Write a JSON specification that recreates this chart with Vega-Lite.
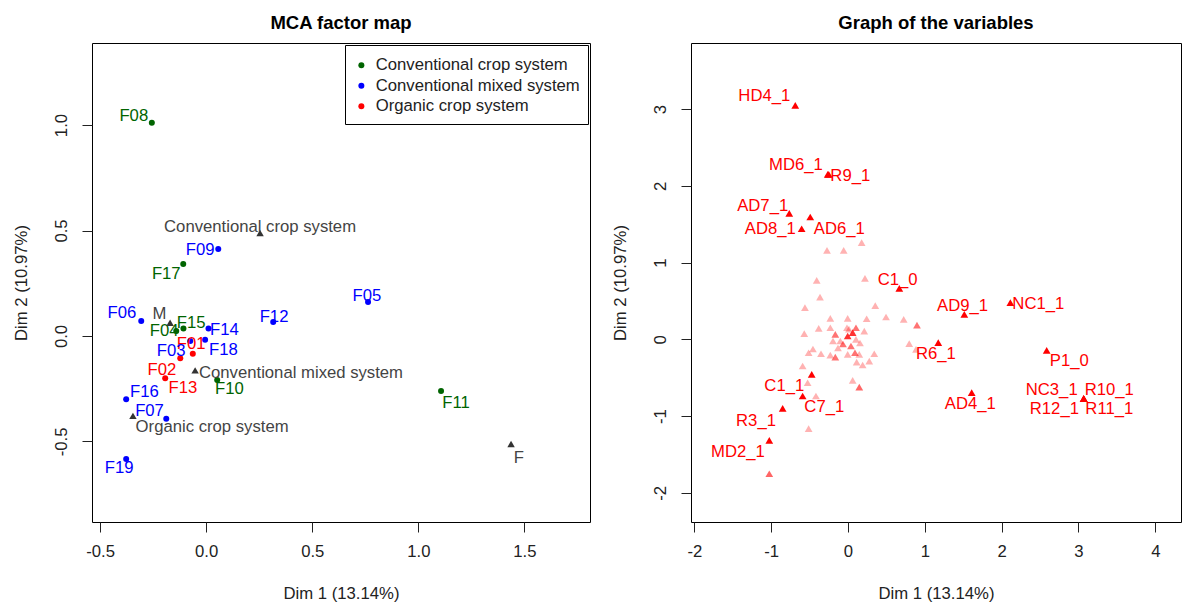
{
  "$schema": "https://vega.github.io/schema/vega-lite/v6.json",
  "background": "white",
  "padding": {"left": 12, "top": 13, "right": 2, "bottom": 0},
  "bounds": "flush",
  "spacing": 101,
  "config": {
    "font": "Liberation Sans",
    "locale": {"number": {"decimal": ".", "thousands": ",", "grouping": [3], "currency": ["$", ""], "minus": "-"}},
    "view": {"stroke": "black", "strokeWidth": 1},
    "axis": {"domain": false, "grid": false, "tickColor": "#222", "tickSize": 10, "labelFontSize": 16.7, "labelColor": "#222", "titleFontSize": 16.7, "titleFontWeight": "normal", "titleColor": "#222", "labelFlush": false, "labelOverlap": false},
    "axisX": {"labelPadding": 11, "minExtent": 40, "maxExtent": 40, "titlePadding": 23},
    "axisY": {"labelAngle": -90, "labelAlign": "center", "labelBaseline": "bottom", "labelPadding": 12, "minExtent": 45, "maxExtent": 45, "titlePadding": 17},
    "title": {"fontSize": 18.5, "fontWeight": "bold", "offset": 11, "color": "black"}
  },
  "datasets": {
    "farms": [
      {"farm": "F01", "system": "Organic crop system", "dim1": -0.063, "dim2": -0.084, "label_dim1": -0.071, "label_dim2": -0.039},
      {"farm": "F02", "system": "Organic crop system", "dim1": -0.193, "dim2": -0.200, "label_dim1": -0.209, "label_dim2": -0.161},
      {"farm": "F03", "system": "Conventional mixed system", "dim1": -0.075, "dim2": -0.024, "label_dim1": -0.165, "label_dim2": -0.071},
      {"farm": "F04", "system": "Conventional crop system", "dim1": -0.141, "dim2": 0.024, "label_dim1": -0.198, "label_dim2": 0.024},
      {"farm": "F05", "system": "Conventional mixed system", "dim1": 0.763, "dim2": 0.161, "label_dim1": 0.758, "label_dim2": 0.190},
      {"farm": "F06", "system": "Conventional mixed system", "dim1": -0.306, "dim2": 0.071, "label_dim1": -0.397, "label_dim2": 0.108},
      {"farm": "F07", "system": "Conventional mixed system", "dim1": -0.188, "dim2": -0.392, "label_dim1": -0.267, "label_dim2": -0.355},
      {"farm": "F08", "system": "Conventional crop system", "dim1": -0.256, "dim2": 1.011, "label_dim1": -0.341, "label_dim2": 1.043},
      {"farm": "F09", "system": "Conventional mixed system", "dim1": 0.057, "dim2": 0.412, "label_dim1": -0.028, "label_dim2": 0.408},
      {"farm": "F10", "system": "Conventional crop system", "dim1": 0.052, "dim2": -0.209, "label_dim1": 0.110, "label_dim2": -0.253},
      {"farm": "F11", "system": "Conventional crop system", "dim1": 1.107, "dim2": -0.261, "label_dim1": 1.178, "label_dim2": -0.318},
      {"farm": "F12", "system": "Conventional mixed system", "dim1": 0.316, "dim2": 0.066, "label_dim1": 0.320, "label_dim2": 0.090},
      {"farm": "F13", "system": "Organic crop system", "dim1": -0.122, "dim2": -0.106, "label_dim1": -0.110, "label_dim2": -0.245},
      {"farm": "F14", "system": "Conventional mixed system", "dim1": 0.011, "dim2": 0.036, "label_dim1": 0.086, "label_dim2": 0.027},
      {"farm": "F15", "system": "Conventional crop system", "dim1": -0.107, "dim2": 0.035, "label_dim1": -0.071, "label_dim2": 0.063},
      {"farm": "F16", "system": "Conventional mixed system", "dim1": -0.377, "dim2": -0.300, "label_dim1": -0.291, "label_dim2": -0.264},
      {"farm": "F17", "system": "Conventional crop system", "dim1": -0.108, "dim2": 0.341, "label_dim1": -0.188, "label_dim2": 0.294},
      {"farm": "F18", "system": "Conventional mixed system", "dim1": -0.005, "dim2": -0.018, "label_dim1": 0.081, "label_dim2": -0.068},
      {"farm": "F19", "system": "Conventional mixed system", "dim1": -0.377, "dim2": -0.583, "label_dim1": -0.410, "label_dim2": -0.626}
    ],
    "categories": [
      {"category": "Conventional crop system", "dim1": 0.254, "dim2": 0.488, "label_dim1": 0.254, "label_dim2": 0.517},
      {"category": "Conventional mixed system", "dim1": -0.052, "dim2": -0.163, "label_dim1": 0.447, "label_dim2": -0.175},
      {"category": "Organic crop system", "dim1": -0.345, "dim2": -0.379, "label_dim1": 0.028, "label_dim2": -0.431},
      {"category": "M", "dim1": -0.170, "dim2": 0.063, "label_dim1": -0.220, "label_dim2": 0.103},
      {"category": "F", "dim1": 1.437, "dim2": -0.512, "label_dim1": 1.474, "label_dim2": -0.578}
    ],
    "variables": [
      {"name": "HD4_1", "dim1": -0.686, "dim2": 3.05, "quality": 1, "label_dim1": -1.089, "label_dim2": 3.171},
      {"name": "MD6_1", "dim1": -0.264, "dim2": 2.15, "quality": 1, "label_dim1": -0.677, "label_dim2": 2.268},
      {"name": "R9_1", "dim1": -0.25, "dim2": 2.15, "quality": 1, "label_dim1": 0.03, "label_dim2": 2.128},
      {"name": "AD7_1", "dim1": -0.764, "dim2": 1.642, "quality": 1, "label_dim1": -1.11, "label_dim2": 1.737},
      {"name": "AD6_1", "dim1": -0.491, "dim2": 1.594, "quality": 1, "label_dim1": -0.113, "label_dim2": 1.434},
      {"name": "AD8_1", "dim1": -0.603, "dim2": 1.441, "quality": 1, "label_dim1": -1.011, "label_dim2": 1.434},
      {"name": "C1_0", "dim1": 0.668, "dim2": 0.665, "quality": 1, "label_dim1": 0.647, "label_dim2": 0.773},
      {"name": "AD9_1", "dim1": 1.514, "dim2": 0.326, "quality": 1, "label_dim1": 1.492, "label_dim2": 0.434},
      {"name": "NC1_1", "dim1": 2.113, "dim2": 0.477, "quality": 1, "label_dim1": 2.477, "label_dim2": 0.464},
      {"name": "R6_1", "dim1": 1.175, "dim2": -0.044, "quality": 1, "label_dim1": 1.145, "label_dim2": -0.195},
      {"name": "P1_0", "dim1": 2.586, "dim2": -0.143, "quality": 1, "label_dim1": 2.88, "label_dim2": -0.283},
      {"name": "AD4_1", "dim1": 1.61, "dim2": -0.696, "quality": 1, "label_dim1": 1.592, "label_dim2": -0.847},
      {"name": "NC3_1", "dim1": 3.068, "dim2": -0.774, "quality": 1, "label_dim1": 2.651, "label_dim2": -0.665},
      {"name": "R10_1", "dim1": 3.068, "dim2": -0.774, "quality": 1, "label_dim1": 3.401, "label_dim2": -0.665},
      {"name": "R12_1", "dim1": 3.068, "dim2": -0.774, "quality": 1, "label_dim1": 2.686, "label_dim2": -0.912},
      {"name": "R11_1", "dim1": 3.068, "dim2": -0.774, "quality": 1, "label_dim1": 3.401, "label_dim2": -0.912},
      {"name": "C1_1", "dim1": -0.59, "dim2": -0.739, "quality": 1, "label_dim1": -0.829, "label_dim2": -0.609},
      {"name": "C7_1", "dim1": -0.472, "dim2": -0.456, "quality": 1, "label_dim1": -0.308, "label_dim2": -0.882},
      {"name": "R3_1", "dim1": -0.85, "dim2": -0.899, "quality": 1, "label_dim1": -1.197, "label_dim2": -1.065},
      {"name": "MD2_1", "dim1": -1.024, "dim2": -1.316, "quality": 1, "label_dim1": -1.432, "label_dim2": -1.467},
      {"name": "v01", "dim1": 0.178, "dim2": 1.259, "quality": 0.3},
      {"name": "v02", "dim1": -0.273, "dim2": 1.16, "quality": 0.3},
      {"name": "v03", "dim1": -0.056, "dim2": 1.16, "quality": 0.3},
      {"name": "v04", "dim1": 0.221, "dim2": 0.795, "quality": 0.3},
      {"name": "v05", "dim1": -0.407, "dim2": 0.769, "quality": 0.3},
      {"name": "v06", "dim1": -0.364, "dim2": 0.551, "quality": 0.3},
      {"name": "v07", "dim1": -0.56, "dim2": 0.412, "quality": 0.3},
      {"name": "v08", "dim1": 0.355, "dim2": 0.438, "quality": 0.3},
      {"name": "v09", "dim1": -0.23, "dim2": 0.274, "quality": 0.3},
      {"name": "v10", "dim1": -0.004, "dim2": 0.274, "quality": 0.3},
      {"name": "v11", "dim1": 0.243, "dim2": 0.268, "quality": 0.3},
      {"name": "v12", "dim1": 0.495, "dim2": 0.291, "quality": 0.3},
      {"name": "v13", "dim1": 0.725, "dim2": 0.261, "quality": 0.3},
      {"name": "v14", "dim1": 0.898, "dim2": 0.186, "quality": 0.55},
      {"name": "v15", "dim1": 0.797, "dim2": -0.057, "quality": 0.3},
      {"name": "v16", "dim1": 0.885, "dim2": -0.13, "quality": 0.3},
      {"name": "v17", "dim1": -0.569, "dim2": 0.073, "quality": 0.3},
      {"name": "v18", "dim1": -0.381, "dim2": 0.143, "quality": 0.3},
      {"name": "v19", "dim1": -0.23, "dim2": 0.151, "quality": 0.3},
      {"name": "v20", "dim1": -0.165, "dim2": 0.065, "quality": 0.55},
      {"name": "v21", "dim1": -0.1, "dim2": -0.022, "quality": 0.3},
      {"name": "v22", "dim1": -0.004, "dim2": 0.043, "quality": 0.8},
      {"name": "v23", "dim1": 0.061, "dim2": 0.086, "quality": 0.8},
      {"name": "v24", "dim1": 0.104, "dim2": 0.0, "quality": 0.3},
      {"name": "v25", "dim1": 0.212, "dim2": 0.108, "quality": 0.3},
      {"name": "v26", "dim1": -0.512, "dim2": -0.175, "quality": 0.3},
      {"name": "v27", "dim1": -0.351, "dim2": -0.188, "quality": 0.3},
      {"name": "v28", "dim1": -0.23, "dim2": -0.205, "quality": 0.3},
      {"name": "v29", "dim1": -0.165, "dim2": -0.231, "quality": 0.55},
      {"name": "v30", "dim1": -0.004, "dim2": -0.195, "quality": 0.3},
      {"name": "v31", "dim1": 0.091, "dim2": -0.175, "quality": 0.55},
      {"name": "v32", "dim1": 0.147, "dim2": -0.195, "quality": 0.3},
      {"name": "v33", "dim1": 0.342, "dim2": -0.188, "quality": 0.3},
      {"name": "v34", "dim1": 0.277, "dim2": -0.283, "quality": 0.3},
      {"name": "v35", "dim1": 0.191, "dim2": -0.335, "quality": 0.3},
      {"name": "v36", "dim1": 0.113, "dim2": -0.296, "quality": 0.3},
      {"name": "v37", "dim1": -0.59, "dim2": -0.348, "quality": 0.3},
      {"name": "v38", "dim1": -0.525, "dim2": -0.566, "quality": 0.3},
      {"name": "v39", "dim1": 0.061, "dim2": -0.534, "quality": 0.3},
      {"name": "v40", "dim1": 0.147, "dim2": -0.622, "quality": 0.6},
      {"name": "v41", "dim1": -0.417, "dim2": -0.739, "quality": 0.3},
      {"name": "v42", "dim1": -0.512, "dim2": -1.165, "quality": 0.3},
      {"name": "v43", "dim1": -1.024, "dim2": -1.752, "quality": 0.6},
      {"name": "v44", "dim1": -0.065, "dim2": -0.061, "quality": 0.55},
      {"name": "v45", "dim1": 0.039, "dim2": -0.087, "quality": 0.55},
      {"name": "v46", "dim1": -0.13, "dim2": -0.113, "quality": 0.3},
      {"name": "v47", "dim1": 0.013, "dim2": 0.134, "quality": 0.3},
      {"name": "v48", "dim1": -0.195, "dim2": -0.022, "quality": 0.3},
      {"name": "v49", "dim1": 0.156, "dim2": -0.048, "quality": 0.3},
      {"name": "v50", "dim1": -0.456, "dim2": -0.126, "quality": 0.3},
      {"name": "v51", "dim1": -0.013, "dim2": 0.151, "quality": 0.3},
      {"name": "v52", "dim1": 0.104, "dim2": 0.151, "quality": 0.55}
    ]
  },
  "hconcat": [
    {
      "width": 498,
      "height": 479,
      "title": "MCA factor map",
      "layer": [
        {
          "mark": {"type": "rule", "color": "black", "strokeDash": [4, 4], "strokeWidth": 1},
          "encoding": {"x": {"datum": 0, "type": "quantitative", "scale": {"domain": [-0.538, 1.809], "nice": false, "zero": false}}}
        },
        {
          "mark": {"type": "rule", "color": "black", "strokeDash": [4, 4], "strokeWidth": 1},
          "encoding": {"y": {"datum": 0, "type": "quantitative", "scale": {"domain": [-0.882, 1.389], "nice": false, "zero": false}}}
        },
        {
          "data": {"name": "farms"},
          "mark": {"type": "point", "filled": true, "shape": "circle", "size": 36, "opacity": 1},
          "encoding": {
            "x": {"field": "dim1", "type": "quantitative", "scale": {"domain": [-0.538, 1.809], "nice": false, "zero": false}, "axis": {"values": [-0.5, 0, 0.5, 1, 1.5], "format": ".1f", "title": "Dim 1 (13.14%)"}},
            "y": {"field": "dim2", "type": "quantitative", "scale": {"domain": [-0.882, 1.389], "nice": false, "zero": false}, "axis": {"values": [-0.5, 0, 0.5, 1], "format": ".1f", "title": "Dim 2 (10.97%)"}},
            "color": {
              "field": "system", "type": "nominal",
              "scale": {"domain": ["Conventional crop system", "Conventional mixed system", "Organic crop system"], "range": ["#006400", "#0000FF", "#FF0000"]},
              "legend": {"title": " ", "titleFontSize": 4, "titlePadding": 0, "orient": "none", "legendX": 253, "legendY": 2, "symbolType": "circle", "symbolSize": 36, "symbolStrokeWidth": 0, "labelFontSize": 16.7, "labelColor": "#222", "labelOffset": 6, "labelLimit": 400, "strokeColor": "black", "fillColor": "white", "padding": 8, "rowPadding": 2.5, "cornerRadius": 0}
            }
          }
        },
        {
          "data": {"name": "farms"},
          "mark": {"type": "text", "fontSize": 16.7, "align": "center", "baseline": "middle"},
          "encoding": {
            "x": {"field": "label_dim1", "type": "quantitative", "scale": {"domain": [-0.538, 1.809], "nice": false, "zero": false}},
            "y": {"field": "label_dim2", "type": "quantitative", "scale": {"domain": [-0.882, 1.389], "nice": false, "zero": false}},
            "text": {"field": "farm"},
            "color": {"field": "system", "type": "nominal"}
          }
        },
        {
          "data": {"name": "categories"},
          "mark": {"type": "point", "shape": "triangle-up", "filled": true, "size": 55, "color": "#333333", "opacity": 1},
          "encoding": {
            "x": {"field": "dim1", "type": "quantitative", "scale": {"domain": [-0.538, 1.809], "nice": false, "zero": false}},
            "y": {"field": "dim2", "type": "quantitative", "scale": {"domain": [-0.882, 1.389], "nice": false, "zero": false}}
          }
        },
        {
          "data": {"name": "categories"},
          "mark": {"type": "text", "fontSize": 16.7, "align": "center", "baseline": "middle", "color": "#444444"},
          "encoding": {
            "x": {"field": "label_dim1", "type": "quantitative", "scale": {"domain": [-0.538, 1.809], "nice": false, "zero": false}},
            "y": {"field": "label_dim2", "type": "quantitative", "scale": {"domain": [-0.882, 1.389], "nice": false, "zero": false}},
            "text": {"field": "category"}
          }
        }
      ]
    },
    {
      "width": 490,
      "height": 479,
      "title": "Graph of the variables",
      "layer": [
        {
          "mark": {"type": "rule", "color": "black", "strokeDash": [4, 4], "strokeWidth": 1},
          "encoding": {"x": {"datum": 0, "type": "quantitative", "scale": {"domain": [-2.043, 4.334], "nice": false, "zero": false}}}
        },
        {
          "mark": {"type": "rule", "color": "#555555", "strokeDash": [4, 4], "strokeWidth": 1},
          "encoding": {"y": {"datum": 0, "type": "quantitative", "scale": {"domain": [-2.381, 3.862], "nice": false, "zero": false}}}
        },
        {
          "data": {"name": "variables"},
          "mark": {"type": "point", "shape": "triangle-up", "filled": true, "size": 60, "color": "#FF0000"},
          "encoding": {
            "x": {"field": "dim1", "type": "quantitative", "scale": {"domain": [-2.043, 4.334], "nice": false, "zero": false}, "axis": {"values": [-2, -1, 0, 1, 2, 3, 4], "format": "d", "title": "Dim 1 (13.14%)"}},
            "y": {"field": "dim2", "type": "quantitative", "scale": {"domain": [-2.381, 3.862], "nice": false, "zero": false}, "axis": {"values": [-2, -1, 0, 1, 2, 3], "format": "d", "title": "Dim 2 (10.97%)"}},
            "opacity": {"field": "quality", "type": "quantitative", "scale": {"domain": [0, 1], "range": [0, 1]}, "legend": null}
          }
        },
        {
          "data": {"name": "variables"},
          "transform": [{"filter": "datum.label_dim1 != null"}],
          "mark": {"type": "text", "fontSize": 16.7, "align": "center", "baseline": "middle", "color": "#FF0000"},
          "encoding": {
            "x": {"field": "label_dim1", "type": "quantitative", "scale": {"domain": [-2.043, 4.334], "nice": false, "zero": false}},
            "y": {"field": "label_dim2", "type": "quantitative", "scale": {"domain": [-2.381, 3.862], "nice": false, "zero": false}},
            "text": {"field": "name"}
          }
        }
      ]
    }
  ]
}
